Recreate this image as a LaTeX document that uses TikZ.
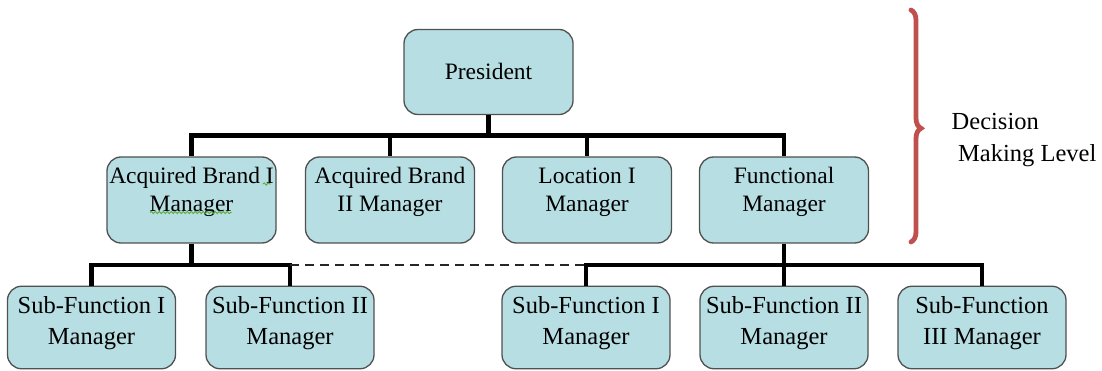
\documentclass[tikz,border=0pt]{standalone}
\usepackage{fontspec}
\setmainfont{Liberation Serif}
\usetikzlibrary{decorations.pathreplacing,decorations.pathmorphing}
\definecolor{boxfill}{RGB}{183,222,227}
\definecolor{boxline}{RGB}{80,80,80}
\definecolor{bracered}{RGB}{192,80,77}
\definecolor{spellgreen}{RGB}{90,170,60}
% lines of a box, with the baseline on the first line
\newcommand{\boxlines}[1]{\begin{tabular}[t]{@{}c@{}}#1\end{tabular}}
\begin{document}
\begin{tikzpicture}[x=1pt,y=-1pt,
  orgbox/.style={draw=boxline, line width=1.3pt, fill=boxfill, rounded corners=14pt,
    inner sep=0pt, minimum width=169pt},
  toplevel/.style={orgbox, minimum height=85pt, font=\fontsize{23.5}{28.3}\selectfont,
    text height=20pt, text depth=4pt},
  midlevel/.style={orgbox, minimum height=86pt, font=\fontsize{23.5}{28.3}\selectfont,
    text height=20pt, text depth=53.4pt},
  lowlevel/.style={orgbox, minimum width=168pt, minimum height=82.5pt,
    font=\fontsize{24.5}{31}\selectfont, text height=20pt, text depth=48.4pt},
  link/.style={line width=4.7pt, draw=black},
  dashlink/.style={line width=2.5pt, draw=black!85, dash pattern=on 9pt off 6pt},
  levellabel/.style={anchor=base west, inner sep=0pt, font=\fontsize{24.5}{28}\selectfont},
  squiggle/.style={draw=spellgreen, line width=0.9pt, decorate,
    decoration={snake, amplitude=1.1pt, segment length=4pt}}
]
\useasboundingbox (0,0) rectangle (1102,371);

% top level
\node[toplevel] (pres) at (488.5,72) {\boxlines{President}};

% second level
\node[midlevel] (ab1) at (191.5,200) {\boxlines{Acquired Brand I\\Manager}};
\node[midlevel] (ab2) at (390,200) {\boxlines{Acquired Brand\\II Manager}};
\node[midlevel] (loc) at (587,200) {\boxlines{Location I\\Manager}};
\node[midlevel] (fm)  at (784,200) {\boxlines{Functional\\Manager}};

% third level
\node[lowlevel] (sfa) at (91.5,327.5) {\boxlines{Sub-Function I\\Manager}};
\node[lowlevel] (sfb) at (290,327.5) {\boxlines{Sub-Function II\\Manager}};
\node[lowlevel] (sfc) at (586,327.5) {\boxlines{Sub-Function I\\Manager}};
\node[lowlevel] (sfd) at (784,327.5) {\boxlines{Sub-Function II\\Manager}};
\node[lowlevel] (sfe) at (982,327.5) {\boxlines{Sub-Function\\III Manager}};

% bus heights
\coordinate (busA) at (0,135.5);
\coordinate (busB) at (0,265);

% president to second level
\foreach \n in {ab1,ab2,loc,fm}
  \draw[link] (pres.south) -- (pres.south |- busA) -| (\n.north);

% brand I manager to its sub-functions
\draw[link] (ab1.south) -- (ab1.south |- busB) -| (sfa.north);
\draw[link] (ab1.south |- busB) -| (sfb.north);

% functional manager to its sub-functions
\draw[link] (fm.south) -- (fm.south |- busB) -| (sfc.north);
\draw[link] (fm.south |- busB) -- (sfd.north);
\draw[link] (fm.south |- busB) -| (sfe.north);

% dotted-line relationship between the two groups
\draw[dashlink] (sfb.north |- busB) -- (sfc.north |- busB);

% spell-check underlines
\draw[squiggle] ([xshift=-41.5pt,yshift=-12.5pt]ab1.center) -- ([xshift=40pt,yshift=-12.5pt]ab1.center);
\draw[squiggle] ([xshift=71.5pt,yshift=16pt]ab1.center) -- ([xshift=79pt,yshift=16pt]ab1.center);

% decision making brace and label
\coordinate (brtop) at (911,10);
\coordinate (brbot) at (911,242);
\draw[bracered, line width=4.8pt, line cap=round, decorate,
      decoration={brace, amplitude=10pt, aspect=0.51}] (brtop) -- (brbot);
\node[levellabel] (dec) at (951.5,130) {Decision};
\node[levellabel] (mkl) at (958,161.7) {Making Level};
\end{tikzpicture}
\end{document}
